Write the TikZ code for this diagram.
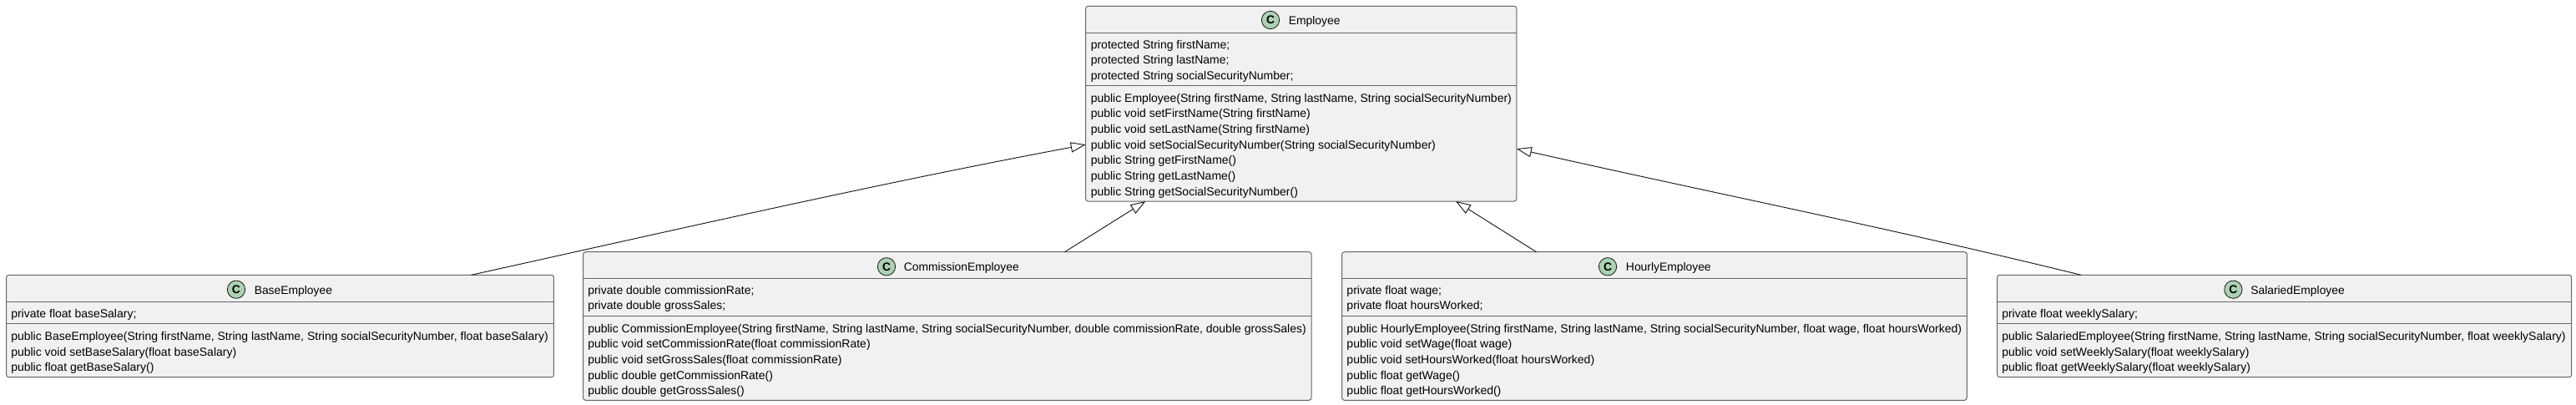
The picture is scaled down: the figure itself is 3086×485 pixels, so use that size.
\documentclass[tikz,border=0pt]{standalone}
\usepackage{fontspec}
\setmainfont{Liberation Sans}
\usetikzlibrary{arrows.meta,calc}
\definecolor{boxfill}{HTML}{F1F1F1}
\definecolor{boxline}{HTML}{666666}
\definecolor{spotfill}{HTML}{ADD1B2}
\definecolor{inkline}{HTML}{181818}
\begin{document}
\begin{tikzpicture}[
    x=0.75pt, y=-0.75pt,
    classbox/.style={rectangle, draw=boxline, fill=boxfill, line width=0.75pt, rounded corners=2.2pt, anchor=north west, inner sep=0pt, outer sep=0pt},
    spot/.style={circle, draw=inkline, fill=spotfill, line width=0.6pt, minimum size=16pt, inner sep=0pt, font=\fontsize{10.4}{12}\selectfont\bfseries},
    title/.style={anchor=base west, inner sep=0pt, font=\fontsize{10.4}{14}\selectfont},
    member/.style={anchor=north west, align=left, inner sep=0pt, font=\fontsize{10.5}{14}\selectfont},
    divider/.style={draw=boxline, line width=0.75pt},
    extends/.style={draw=inkline, line width=0.7pt, -{Triangle[open, length=13.5pt, width=9.2pt]}}
]
\useasboundingbox (0,0) rectangle (3086,485);

% Nodes
\node[classbox, minimum width=387.1pt, minimum height=175.3pt] (employee) at (1300.7,7.3) {};
\node[classbox, minimum width=491.9pt, minimum height=91.8pt] (base) at (7.6,329.3) {};
\node[classbox, minimum width=654.3pt, minimum height=133.2pt] (commission) at (698.6,301.7) {};
\node[classbox, minimum width=561.5pt, minimum height=133.2pt] (hourly) at (1607.6,301.7) {};
\node[classbox, minimum width=516pt, minimum height=91.8pt] (salaried) at (2392.6,329.3) {};

% Titles
\node[spot] (employeeC) at (1522,24) {C};
\node[title] (employeeT) at (1543.6,29.3) {Employee};
\node[spot] (baseC) at (283,346.7) {C};
\node[title] (baseT) at (304.5,352) {BaseEmployee};
\node[spot] (commissionC) at (1062,319.3) {C};
\node[title] (commissionT) at (1082.6,324.6) {CommissionEmployee};
\node[spot] (hourlyC) at (1926,319.3) {C};
\node[title] (hourlyT) at (1947.7,324.6) {HourlyEmployee};
\node[spot] (salariedC) at (2675.4,346.7) {C};
\node[title] (salariedT) at (2696,352) {SalariedEmployee};

% Dividers
\foreach \cls/\gap in {employee/32, employee/95, base/32, base/58, commission/31.6, commission/76.6, hourly/31.6, hourly/76.6, salaried/32, salaried/58}
    \draw[divider] ($(\cls.north west)+(0,\gap)$) -- ($(\cls.north east)+(0,\gap)$);

% Members
\node[member] (employeeA) at (1306.5,47.7) {protected String firstName;\\protected String lastName;\\protected String socialSecurityNumber;};
\node[member] (employeeM) at (1306.5,111.7) {public Employee(String firstName, String lastName, String socialSecurityNumber)\\public void setFirstName(String firstName)\\public void setLastName(String firstName)\\public void setSocialSecurityNumber(String socialSecurityNumber)\\public String getFirstName()\\public String getLastName()\\public String getSocialSecurityNumber()};
\node[member] (baseA) at (13,370.5) {private float baseSalary;};
\node[member] (baseM) at (13,397.2) {public BaseEmployee(String firstName, String lastName, String socialSecurityNumber, float baseSalary)\\public void setBaseSalary(float baseSalary)\\public float getBaseSalary()};
\node[member] (commissionA) at (704,341.8) {private double commissionRate;\\private double grossSales;};
\node[member] (commissionM) at (704,387.8) {public CommissionEmployee(String firstName, String lastName, String socialSecurityNumber, double commissionRate, double grossSales)\\public void setCommissionRate(float commissionRate)\\public void setGrossSales(float commissionRate)\\public double getCommissionRate()\\public double getGrossSales()};
\node[member] (hourlyA) at (1613.2,341.8) {private float wage;\\private float hoursWorked;};
\node[member] (hourlyM) at (1613.2,387.8) {public HourlyEmployee(String firstName, String lastName, String socialSecurityNumber, float wage, float hoursWorked)\\public void setWage(float wage)\\public void setHoursWorked(float hoursWorked)\\public float getWage()\\public float getHoursWorked()};
\node[member] (salariedA) at (2398,370.5) {private float weeklySalary;};
\node[member] (salariedM) at (2398,397.2) {public SalariedEmployee(String firstName, String lastName, String socialSecurityNumber, float weeklySalary)\\public void setWeeklySalary(float weeklySalary)\\public float getWeeklySalary(float weeklySalary)};

% Edges
\draw[extends] ([xshift=171.75pt]base.north) .. controls (810,275) and (1055,219) .. ([yshift=-36.75pt]employee.west);
\draw[extends] ([xshift=105.5pt]commission.north) -- ([xshift=-139.8pt]employee.south);
\draw[extends] ([xshift=-106.1pt]hourly.north) -- ([xshift=138.9pt]employee.south);
\draw[extends] ([xshift=-182.7pt]salaried.north) .. controls (2268,274) and (2042,229) .. ([yshift=-40.5pt]employee.east);

\end{tikzpicture}
\end{document}
